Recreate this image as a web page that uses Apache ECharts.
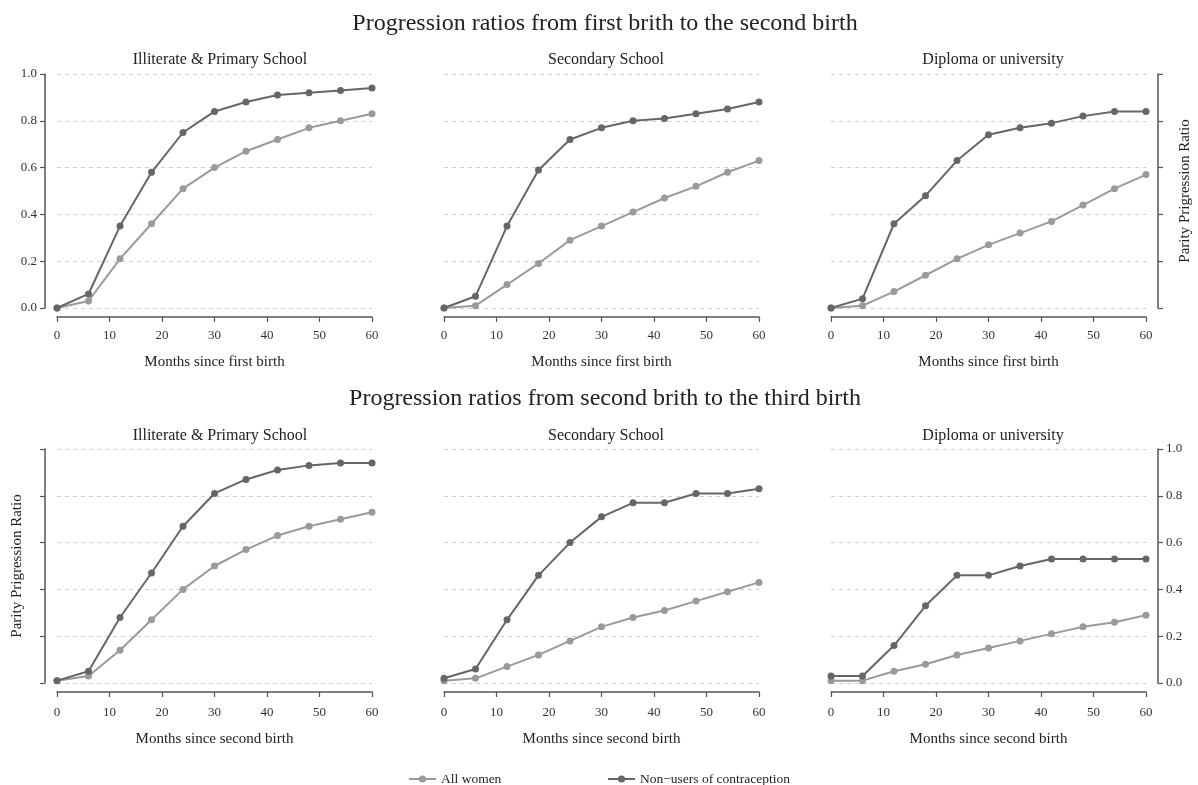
<!DOCTYPE html>
<html>
<head>
<meta charset="utf-8">
<script src="https://cdn.jsdelivr.net/npm/echarts@6/dist/echarts.min.js"></script>
<style>
  html, body { margin: 0; padding: 0; background: #fff; }
  #chart { width: 1198px; height: 785px; }
</style>
</head>
<body>
<div id="chart"></div>
<script>
const months = [0, 6, 12, 18, 24, 30, 36, 42, 48, 54, 60];
const panelTitles = ['Illiterate & Primary School', 'Secondary School', 'Diploma or university'];
const rowTitles = ['Progression ratios from first brith to the second birth', 'Progression ratios from second brith to the third birth'];
const xNames = ['Months since first birth', 'Months since second birth'];
const seriesNames = ['All women', 'Non\u2212users of contraception'];

// first -> second birth
const allFirstPrimary = [0, 0.03, 0.21, 0.36, 0.51, 0.60, 0.67, 0.72, 0.77, 0.80, 0.83];
const nonFirstPrimary = [0, 0.06, 0.35, 0.58, 0.75, 0.84, 0.88, 0.91, 0.92, 0.93, 0.94];
const allFirstSecondary = [0, 0.01, 0.10, 0.19, 0.29, 0.35, 0.41, 0.47, 0.52, 0.58, 0.63];
const nonFirstSecondary = [0, 0.05, 0.35, 0.59, 0.72, 0.77, 0.80, 0.81, 0.83, 0.85, 0.88];
const allFirstDiploma = [0, 0.01, 0.07, 0.14, 0.21, 0.27, 0.32, 0.37, 0.44, 0.51, 0.57];
const nonFirstDiploma = [0, 0.04, 0.36, 0.48, 0.63, 0.74, 0.77, 0.79, 0.82, 0.84, 0.84];

// second -> third birth
const allSecondPrimary = [0.01, 0.03, 0.14, 0.27, 0.40, 0.50, 0.57, 0.63, 0.67, 0.70, 0.73];
const nonSecondPrimary = [0.01, 0.05, 0.28, 0.47, 0.67, 0.81, 0.87, 0.91, 0.93, 0.94, 0.94];
const allSecondSecondary = [0.01, 0.02, 0.07, 0.12, 0.18, 0.24, 0.28, 0.31, 0.35, 0.39, 0.43];
const nonSecondSecondary = [0.02, 0.06, 0.27, 0.46, 0.60, 0.71, 0.77, 0.77, 0.81, 0.81, 0.83];
const allSecondDiploma = [0.01, 0.01, 0.05, 0.08, 0.12, 0.15, 0.18, 0.21, 0.24, 0.26, 0.29];
const nonSecondDiploma = [0.03, 0.03, 0.16, 0.33, 0.46, 0.46, 0.50, 0.53, 0.53, 0.53, 0.53];

const panelData = [
  [allFirstPrimary, nonFirstPrimary],
  [allFirstSecondary, nonFirstSecondary],
  [allFirstDiploma, nonFirstDiploma],
  [allSecondPrimary, nonSecondPrimary],
  [allSecondSecondary, nonSecondSecondary],
  [allSecondDiploma, nonSecondDiploma]
];

const font = 'Liberation Serif';
const lightGray = '#9a9a9a';
const darkGray = '#666666';
const axisColor = '#555';

const chartDom = document.getElementById('chart');
const myChart = echarts.init(chartDom);

const lefts = [57, 444, 831];
const tops = [74, 449];
const centers = [215, 601, 988];

const grids = [];
const xAxes = [];
const yAxes = [];
const series = [];
const titles = [];

rowTitles.forEach((t, r) => {
  titles.push({
    text: t, left: 600, top: r === 0 ? 7 : 382, textAlign: 'center',
    textStyle: { fontFamily: font, fontSize: 24, fontWeight: 'normal', color: '#222' }
  });
});

for (let i = 0; i < 6; i++) {
  const row = Math.floor(i / 3);
  const col = i % 3;
  titles.push({
    text: panelTitles[col], left: centers[col], top: row === 0 ? 47 : 423, textAlign: 'center',
    textStyle: { fontFamily: font, fontSize: 16, fontWeight: 'normal', color: '#222' }
  });
  grids.push({ left: lefts[col], top: tops[row], width: 315, height: 234 });

  xAxes.push({
    type: 'value', gridIndex: i, min: 0, max: 60, interval: 10,
    offset: 9,
    name: xNames[row], nameLocation: 'middle', nameGap: row === 0 ? 38 : 40,
    nameTextStyle: { fontFamily: font, fontSize: 15, color: '#222' },
    axisLine: { show: true, onZero: false, lineStyle: { color: axisColor, width: 1.5 } },
    axisTick: { show: true, length: 5, lineStyle: { color: axisColor, width: 1.2 } },
    axisLabel: { fontFamily: font, fontSize: 13, color: '#333', margin: row === 0 ? 12 : 14 },
    splitLine: { show: false }
  });

  // which panels carry a visible y axis
  const hasAxis = (i === 0 || i === 2 || i === 3 || i === 5);
  const showLabels = (i === 0 || i === 5);
  const showName = (i === 2 || i === 3);
  yAxes.push({
    type: 'value', gridIndex: i, min: 0, max: 1, interval: 0.2,
    position: col === 2 ? 'right' : 'left',
    offset: 12,
    name: showName ? 'Parity Prigression Ratio' : '',
    nameLocation: 'middle', nameGap: 20, nameRotate: 90,
    nameTextStyle: { fontFamily: font, fontSize: 15, color: '#222' },
    axisLine: { show: hasAxis, onZero: false, lineStyle: { color: axisColor, width: 1.5 } },
    axisTick: { show: hasAxis, length: 5, lineStyle: { color: axisColor, width: 1.2 } },
    axisLabel: {
      show: showLabels, fontFamily: font, fontSize: 13, color: '#333', margin: 8,
      formatter: v => v.toFixed(1)
    },
    splitLine: { show: true, lineStyle: { color: '#cfcfcf', type: [4, 4], width: 1 } }
  });

  panelData[i].forEach((vals, k) => {
    series.push({
      name: seriesNames[k],
      type: 'line',
      xAxisIndex: i,
      yAxisIndex: i,
      data: months.map((m, j) => [m, vals[j]]),
      symbol: 'circle',
      symbolSize: 7,
      color: k === 0 ? lightGray : darkGray,
      lineStyle: { width: 2 },
      animation: false,
      z: k + 2
    });
  });
}

const legendText = { fontFamily: font, fontSize: 13.5, color: '#222' };

const option = {
  backgroundColor: '#fff',
  title: titles,
  legend: [
    { data: [seriesNames[0]], left: 403, top: 767, itemWidth: 27, itemHeight: 9, textStyle: legendText },
    { data: [seriesNames[1]], left: 602, top: 767, itemWidth: 27, itemHeight: 9, textStyle: legendText }
  ],
  grid: grids,
  xAxis: xAxes,
  yAxis: yAxes,
  series: series
};
myChart.setOption(option);
</script>
</body>
</html>
